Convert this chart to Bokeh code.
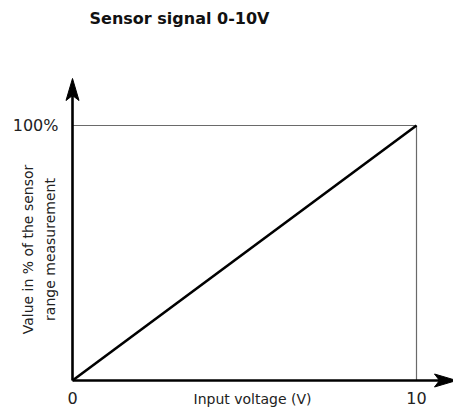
import math
from bokeh.plotting import figure
from bokeh.models import Range1d
from bokeh.core.properties import value
from bokeh.embed import file_html
from bokeh.resources import INLINE

# ---- data ----
voltage = [0, 10]
percent = [0, 100]
x_ticks = [0, 10]
x_tick_labels = ["0", "10"]
y_ticks = [100]
y_tick_labels = ["100%"]
title_text = "Sensor signal 0-10V"
x_title = "Input voltage (V)"
y_title = ["Value in % of the sensor", "range measurement"]

# ---- layout (pixels) ----
W, H = 453, 414
X0, Y0 = 72, 380          # canvas px of the origin
SX = (416 - X0) / (voltage[1] - voltage[0])
SY = (Y0 - 125) / (percent[1] - percent[0])

def dx(px):
    return px / SX

def dy(px):
    return px / SY

p = figure(width=W, height=H, output_backend="svg", toolbar_location=None,
           x_range=Range1d(-X0 / SX, (W - X0) / SX),
           y_range=Range1d(-(H - Y0) / SY, Y0 / SY),
           min_border=0, x_axis_type=None, y_axis_type=None)
p.grid.visible = False
p.outline_line_color = None
p.background_fill_color = "white"
p.border_fill_color = "white"

vmax, pmax = voltage[-1], percent[-1]

# gray reference lines
p.line([voltage[0], vmax], [pmax, pmax], line_color="#6a6a6a", line_width=1.2)
p.line([vmax, vmax], [percent[0], pmax], line_color="#6a6a6a", line_width=1.2)

# signal line
p.line(voltage, percent, line_color="black", line_width=2.6)

# axes with arrows
x_tip = dx(456 - X0)
y_tip = dy(Y0 - 78)
head_len, head_half = 22, 6.5
notch = 5
p.line([0, x_tip - dx(head_len - notch)], [0, 0], line_color="black", line_width=2.6)
p.line([0, 0], [0, y_tip - dy(head_len - notch)], line_color="black", line_width=2.6)
p.patch([x_tip, x_tip - dx(head_len), x_tip - dx(head_len - notch), x_tip - dx(head_len)],
        [0, dy(head_half), 0, -dy(head_half)], color="black")
p.patch([0, dx(head_half), 0, -dx(head_half)],
        [y_tip, y_tip - dy(head_len), y_tip - dy(head_len - notch), y_tip - dy(head_len)], color="black")

FONT = value("DejaVu Sans")

# tick labels
p.text(x=x_ticks, y=[-dy(17)] * len(x_ticks), text=x_tick_labels, text_font=FONT,
       text_font_size="16px", text_align="center", text_baseline="middle", text_color="#222222")
p.text(x=[-dx(14)] * len(y_ticks), y=y_ticks, text=y_tick_labels, text_font=FONT,
       text_font_size="16px", text_align="right", text_baseline="middle", text_color="#222222")

# axis titles
p.text(x=[(voltage[0] + vmax) / 2 + dx(8)], y=[-dy(18)], text=[x_title], text_font=FONT,
       text_font_size="14px", text_align="center", text_baseline="middle", text_color="#222222")
p.text(x=[-dx(X0 - 27), -dx(X0 - 49)], y=[dy(Y0 - 249)] * 2, text=y_title, text_font=FONT,
       text_font_size="14px", text_align="center", text_baseline="middle", angle=math.pi / 2,
       text_color="#222222")

# title
p.text(x=[dx(179 - X0)], y=[dy(Y0 - 18)], text=[title_text], text_font=FONT,
       text_font_size="16px", text_font_style="bold", text_align="center",
       text_baseline="middle", text_color="#111111")

open("out.html", "w").write(file_html(p, INLINE))
